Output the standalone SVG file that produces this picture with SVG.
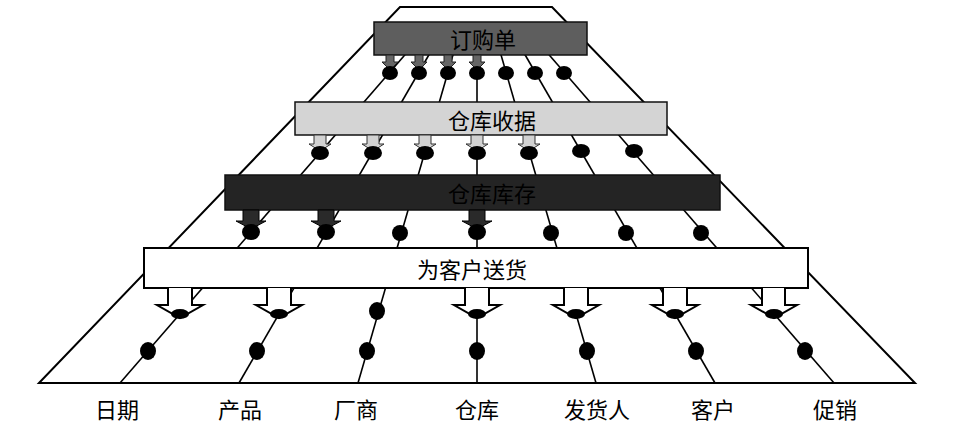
<svg xmlns="http://www.w3.org/2000/svg" width="958" height="424" viewBox="0 0 958 424">
<style>
  .frame { fill: none; stroke: #000; stroke-width: 2; stroke-linejoin: miter; }
  .dim { stroke: #000; stroke-width: 1.6; fill: none; }
  .dot { fill: #000; }
  .a1 { fill: #666; stroke: #222; stroke-width: 1; }
  .a2 { fill: #d2d2d2; stroke: #333; stroke-width: 1; }
  .a3 { fill: #2a2a2a; stroke: #000; stroke-width: 1; }
  .a4 { fill: #fff; stroke: #000; stroke-width: 2; stroke-linejoin: miter; }
  .bar { stroke: #111; stroke-width: 1.5; }
  .t { font-family: "Noto Sans CJK SC", "Noto Sans", sans-serif; font-size: 22px; text-anchor: middle; dominant-baseline: central; fill: #000; }
</style>
<rect x="0" y="0" width="958" height="424" fill="#fff"/>

<g id="frame">
  <path class="frame" d="M39,383 L400,7 L552,7 L915,383 Z"/>
</g>

<g id="connectors">
  <g id="dimension-lines">
    <line class="dim" x1="417.8" y1="40" x2="120" y2="383"/>
    <line class="dim" x1="437.5" y1="40" x2="239" y2="383"/>
    <line class="dim" x1="457.3" y1="40" x2="358" y2="383"/>
    <line class="dim" x1="477" y1="40" x2="477" y2="383"/>
    <line class="dim" x1="496.7" y1="40" x2="596" y2="383"/>
    <line class="dim" x1="516.5" y1="40" x2="715" y2="383"/>
    <line class="dim" x1="536.2" y1="40" x2="834" y2="383"/>
  </g>
</g>

<g id="bar-orders">
  <rect class="bar" x="374" y="22" width="213" height="33" fill="#5e5e5e"/>
  <text class="t" x="483" y="38" font-size="20" fill="#1a1a1a">订购单</text>
</g>
<g id="bar-receipts">
  <rect class="bar" x="295" y="102" width="372" height="33" fill="#d4d4d4"/>
  <text class="t" x="492" y="119">仓库收据</text>
</g>
<g id="bar-inventory">
  <rect class="bar" x="225" y="175" width="495" height="35" fill="#242424"/>
  <text class="t" x="492" y="192" fill="#050505">仓库库存</text>
</g>
<g id="bar-shipments">
  <rect x="144" y="248" width="664" height="40" fill="#fff" stroke="#000" stroke-width="2"/>
  <text class="t" x="472" y="268">为客户送货</text>
</g>

<g id="connectors-arrows">
  <!-- row 1 -->
  <path class="a1" d="M386,55 V62 H382 L390,70 L398,62 H394 V55 Z"/>
  <path class="a1" d="M415,55 V62 H411 L419,70 L427,62 H423 V55 Z"/>
  <path class="a1" d="M444,55 V62 H440 L448,70 L456,62 H452 V55 Z"/>
  <path class="a1" d="M473,55 V62 H469 L477,70 L485,62 H481 V55 Z"/>
  <!-- row 2 -->
  <path class="a2" d="M314,135 V144 H309 L320,151 L331,144 H326 V135 Z"/>
  <path class="a2" d="M367,135 V144 H362 L373,151 L384,144 H379 V135 Z"/>
  <path class="a2" d="M419,135 V144 H414 L425,151 L436,144 H431 V135 Z"/>
  <path class="a2" d="M471,135 V144 H466 L477,151 L488,144 H483 V135 Z"/>
  <path class="a2" d="M523,135 V144 H518 L529,151 L540,144 H535 V135 Z"/>
  <!-- row 3 -->
  <path class="a3" d="M243,210 V221 H236 L251,229 L266,221 H259 V210 Z"/>
  <path class="a3" d="M318,210 V221 H311 L326,229 L341,221 H334 V210 Z"/>
  <path class="a3" d="M469,210 V221 H462 L477,229 L492,221 H485 V210 Z"/>
  <!-- row 4 -->
  <path class="a4" d="M168,288 V305 H157 L180,318 L203,305 H192 V288"/>
  <path class="a4" d="M267,288 V305 H256 L279,318 L302,305 H291 V288"/>
  <path class="a4" d="M465,288 V305 H454 L477,318 L500,305 H489 V288"/>
  <path class="a4" d="M564,288 V305 H553 L576,318 L599,305 H588 V288"/>
  <path class="a4" d="M663,288 V305 H652 L675,318 L698,305 H687 V288"/>
  <path class="a4" d="M762,288 V305 H751 L774,318 L797,305 H785 V288"/>
</g>

<g id="connectors-dots">
  <!-- row 1 -->
  <ellipse class="dot" cx="390" cy="73" rx="8" ry="7"/>
  <ellipse class="dot" cx="419" cy="73" rx="8" ry="7"/>
  <ellipse class="dot" cx="448" cy="73" rx="8" ry="7"/>
  <ellipse class="dot" cx="477" cy="73" rx="8" ry="7"/>
  <ellipse class="dot" cx="506" cy="73" rx="8" ry="7"/>
  <ellipse class="dot" cx="535" cy="73" rx="8" ry="7"/>
  <ellipse class="dot" cx="564" cy="73" rx="8" ry="7"/>
  <!-- row 2 -->
  <ellipse class="dot" cx="320" cy="153" rx="9" ry="7"/>
  <ellipse class="dot" cx="373" cy="153" rx="9" ry="7"/>
  <ellipse class="dot" cx="425" cy="153" rx="9" ry="7"/>
  <ellipse class="dot" cx="477" cy="153" rx="9" ry="7"/>
  <ellipse class="dot" cx="529" cy="153" rx="9" ry="7"/>
  <ellipse class="dot" cx="581" cy="151" rx="9" ry="7"/>
  <ellipse class="dot" cx="634" cy="151" rx="9" ry="7"/>
  <!-- row 3 -->
  <ellipse class="dot" cx="251" cy="232" rx="9" ry="8"/>
  <ellipse class="dot" cx="326" cy="232" rx="9" ry="8"/>
  <ellipse class="dot" cx="400" cy="233" rx="8" ry="8"/>
  <ellipse class="dot" cx="477" cy="232" rx="9" ry="8"/>
  <ellipse class="dot" cx="551" cy="233" rx="8" ry="8"/>
  <ellipse class="dot" cx="626" cy="233" rx="8" ry="8"/>
  <ellipse class="dot" cx="701" cy="233" rx="8" ry="8"/>
  <!-- row 4 -->
  <ellipse class="dot" cx="180" cy="314" rx="9" ry="5"/>
  <ellipse class="dot" cx="279" cy="314" rx="9" ry="5"/>
  <ellipse class="dot" cx="377" cy="311" rx="8" ry="9"/>
  <ellipse class="dot" cx="477" cy="314" rx="9" ry="5"/>
  <ellipse class="dot" cx="576" cy="314" rx="9" ry="5"/>
  <ellipse class="dot" cx="675" cy="314" rx="9" ry="5"/>
  <ellipse class="dot" cx="774" cy="314" rx="9" ry="5"/>
  <!-- row 5 -->
  <ellipse class="dot" cx="148" cy="351" rx="8" ry="9"/>
  <ellipse class="dot" cx="257" cy="351" rx="8" ry="9"/>
  <ellipse class="dot" cx="367" cy="351" rx="8" ry="9"/>
  <ellipse class="dot" cx="477" cy="351" rx="8" ry="9"/>
  <ellipse class="dot" cx="587" cy="351" rx="8" ry="9"/>
  <ellipse class="dot" cx="696" cy="351" rx="8" ry="9"/>
  <ellipse class="dot" cx="805" cy="351" rx="8" ry="9"/>
</g>

<g id="label-date"><text class="t" x="117" y="408">日期</text></g>
<g id="label-product"><text class="t" x="240" y="408">产品</text></g>
<g id="label-vendor"><text class="t" x="356" y="408">厂商</text></g>
<g id="label-warehouse"><text class="t" x="477" y="408">仓库</text></g>
<g id="label-shipper"><text class="t" x="597" y="408">发货人</text></g>
<g id="label-customer"><text class="t" x="713" y="408">客户</text></g>
<g id="label-promotion"><text class="t" x="835" y="408">促销</text></g>
</svg>
